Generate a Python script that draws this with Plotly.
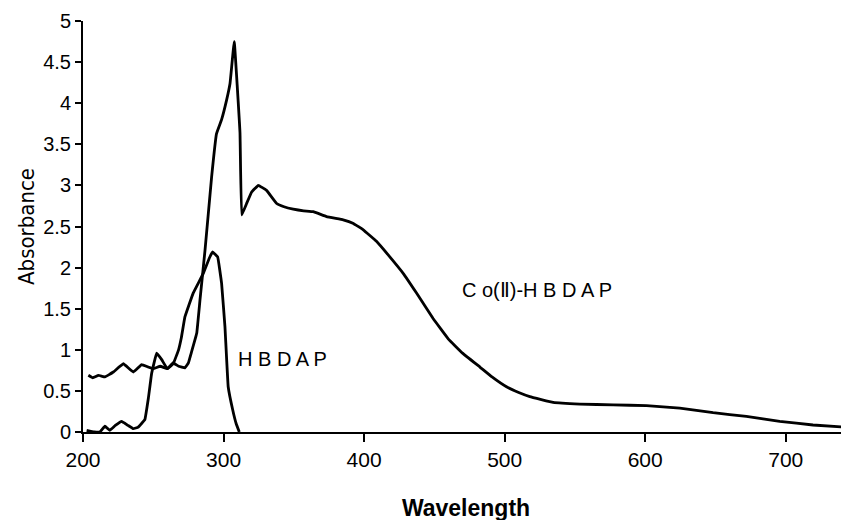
import plotly.graph_objects as go

# Co(II)-HBDAP complex spectrum
co_wl = [203.8, 207, 211, 215.6, 221.6, 228.7, 235.8, 241.7, 246.5, 250, 255, 260, 264, 268,
         272.5, 275, 277, 280.9, 283.2, 286.8, 291.5, 295, 298.6, 302.2, 304.6, 307.6, 311.7,
         312.9, 316.4, 320, 324.7, 330.6, 337.8, 343, 349.6, 357, 363.8, 373.3, 385.1, 392,
         399.4, 408.8, 418.3, 427.8, 437.3, 449.1, 460, 470, 482.4, 491, 501.3, 510, 517.9,
         534.5, 553.5, 577.2, 600.9, 624.6, 648.3, 672, 695.7, 719.4, 745]
co_abs = [0.69, 0.66, 0.69, 0.67, 0.73, 0.83, 0.73, 0.82, 0.79, 0.77, 0.80, 0.77, 0.84, 0.80,
          0.78, 0.84, 0.96, 1.2, 1.6, 2.21, 3.1, 3.63, 3.8, 4.04, 4.24, 4.75, 3.64,
          2.64, 2.78, 2.92, 3.0, 2.94, 2.78, 2.74, 2.71, 2.69, 2.68, 2.62, 2.58, 2.54,
          2.46, 2.32, 2.13, 1.93, 1.69, 1.38, 1.13, 0.96, 0.79, 0.67, 0.55, 0.48, 0.43,
          0.36, 0.34, 0.33, 0.32, 0.29, 0.235, 0.19, 0.13, 0.085, 0.055]

# HBDAP ligand spectrum
hb_wl = [202.6, 208, 212, 215.6, 219, 223, 227.5, 232, 235.8, 239.3, 244, 246.5, 248.8, 252.4,
         256, 260, 264.2, 268, 270, 272.5, 278.4, 285.6, 290, 292.2, 295.8, 298.6, 301, 303.3,
         306.5, 309, 311.2]
hb_abs = [0.02, 0.0, 0.0, 0.07, 0.02, 0.08, 0.13, 0.08, 0.04, 0.06, 0.15, 0.41, 0.71, 0.96,
          0.88, 0.77, 0.83, 1.0, 1.15, 1.40, 1.69, 1.93, 2.12, 2.19, 2.13, 1.81, 1.28, 0.55,
          0.27, 0.1, 0.0]

x_ticks = [200, 300, 400, 500, 600, 700]
y_ticks = [0, 0.5, 1, 1.5, 2, 2.5, 3, 3.5, 4, 4.5, 5]
y_labels = ["0", "0.5", "1", "1.5", "2", "2.5", "3", "3.5", "4", "4.5", "5"]

fig = go.Figure()
for wl, ab in ((co_wl, co_abs), (hb_wl, hb_abs)):
    fig.add_trace(go.Scatter(x=wl, y=ab, mode="lines",
                             line=dict(color="black", width=2.8, shape="spline", smoothing=0.2),
                             showlegend=False, cliponaxis=False))

fig.update_layout(
    width=849, height=520,
    margin=dict(l=75, r=8, t=13, b=96),
    paper_bgcolor="white", plot_bgcolor="white",
    xaxis=dict(range=[200, 745], tickvals=x_ticks, ticks="outside", ticklen=8,
               tickwidth=2, tickcolor="black", showline=True, linecolor="black",
               linewidth=2, showgrid=False, zeroline=False, automargin=False,
               tickfont=dict(family="Liberation Sans, Arial", size=21, color="black"),
               title=dict(text="<b>Wavelength</b>", standoff=30,
                          font=dict(family="Liberation Sans, Arial", size=23, color="black"))),
    yaxis=dict(range=[0, 5], tickvals=y_ticks, ticktext=y_labels, ticks="outside",
               ticklen=6, tickwidth=2, tickcolor="black", showline=True,
               linecolor="black", linewidth=2, showgrid=False, zeroline=False,
               automargin=False,
               tickfont=dict(family="Liberation Sans, Arial", size=20, color="black"),
               title=dict(text="Absorbance", standoff=2,
                          font=dict(family="DejaVu Sans Condensed, DejaVu Sans", size=22, color="black"))),
    annotations=[
        dict(x=342, y=0.89, xref="x", yref="y", text="H B D A P", showarrow=False,
             font=dict(family="Liberation Sans, Arial", size=20, color="black")),
        dict(x=523, y=1.73, xref="x", yref="y", text="C o(Ⅱ)-H B D A P", showarrow=False,
             font=dict(family="Liberation Sans, Arial", size=20, color="black")),
    ],
)

fig.write_html("out.html")
